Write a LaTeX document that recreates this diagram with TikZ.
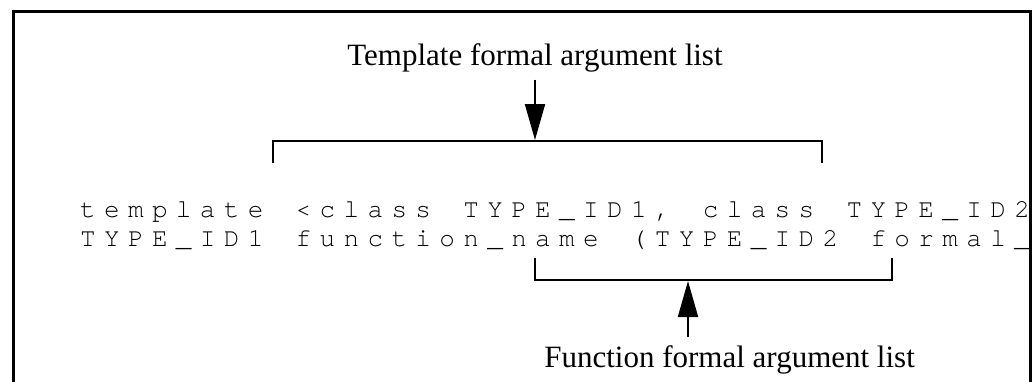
\documentclass[tikz,border=0pt]{standalone}
\usepackage{fontspec}
\setmainfont{Liberation Serif}
\newfontfamily\codefont{texgyrecursor-regular.otf}
\usetikzlibrary{arrows.meta,positioning}
% every character of a source line sits in a cell of the same width
\newlength\codepitch
\setlength\codepitch{23.95pt}
\ExplSyntaxOn
\NewDocumentCommand \spaced { m }
  { \str_map_inline:nn { #1 } { \makebox[\codepitch][l]{##1} } }
\ExplSyntaxOff
\tikzset
{
    frame/.style = {line width=3pt},
    brace/.style = {line width=2pt},
    arrow/.style = {line width=2pt, -{Triangle[length=36pt,width=20pt]}},
    note/.style  = {inner sep=4pt, outer sep=4pt, font=\fontsize{31}{37}\selectfont},
    code/.style  = {anchor=base west, inner sep=0pt, font=\codefont\fontsize{26}{31}\selectfont}
}

\begin{document}
\begin{tikzpicture}[x=1pt, y=-1pt]
		\useasboundingbox (0,0) rectangle (1033,381);
		% the source lines, cut off at the right border
		\begin{scope}
			\clip (14.5,13) rectangle (1029,381);
			\node (l1)	[code] at (80,217) {\spaced{template <class TYPE_ID1, class TYPE_ID2}};
			\node (l2)	[code] at (80,246) {\spaced{TYPE_ID1 function_name (TYPE_ID2 formal_}};
		\end{scope}
		\draw[frame] (13,395) -- (13,11.5) -- (1030.5,11.5) -- (1030.5,395);

		% template argument list
		\node (tt)	[note, anchor=base] at (535,65) {Template formal argument list};
		\coordinate (ta) at (273,163);
		\coordinate (tb) at (822,163);
		\coordinate (tm) at (535,140);
		\draw[brace] (ta) -- ++(0,-22) -| (tb);
		\draw[arrow] (tt) -- (tm);

		% function argument list
		\node (fl)	[note, anchor=base] at (729.6,367) {Function formal argument list};
		\coordinate (fa) at (535,258);
		\coordinate (fb) at (892,258);
		\coordinate (fm) at (688,281);
		\draw[brace] (fa) -- ++(0,22) -| (fb);
		\draw[arrow] (fl.north -| fm) -- (fm);
	\end{tikzpicture}
\end{document}
